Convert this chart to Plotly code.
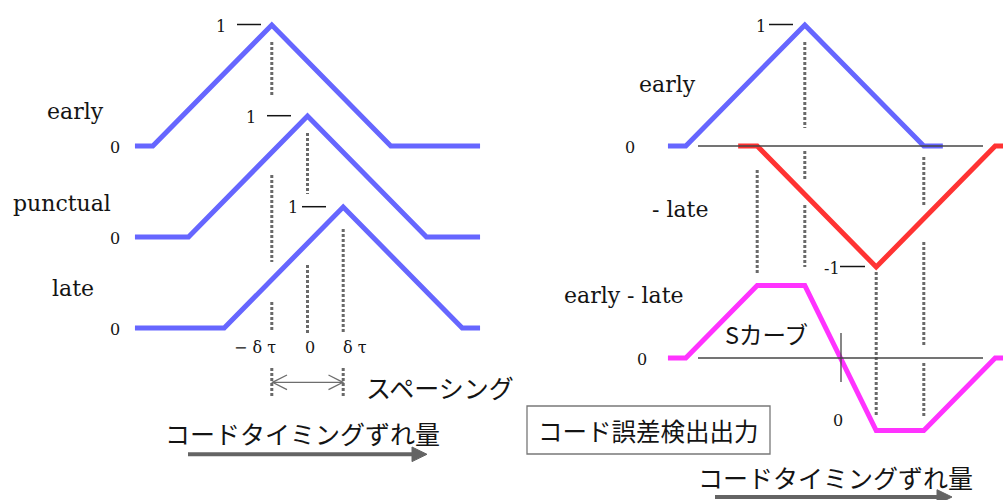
import plotly.graph_objects as go

W, H = 1003, 500

# ---------------- data (τ in chips, normalised correlation) ----------------
DELTA = 0.3  # early / late offset in chips

left_early_tau = [-1.45, -1.3, -0.3, 0.7, 1.45]
left_early_val = [0, 0, 1, 0, 0]
left_punct_tau = [-1.45, -1.0, 0.0, 1.0, 1.45]
left_punct_val = [0, 0, 1, 0, 0]
left_late_tau = [-1.45, -0.7, 0.3, 1.3, 1.45]
left_late_val = [0, 0, 1, 0, 0]

right_early_tau = [-1.45, -1.3, -0.3, 0.7, 0.86]
right_early_val = [0, 0, 1, 0, 0]
right_neglate_tau = [-0.86, -0.7, 0.3, 1.3, 1.45]
right_neglate_val = [0, 0, -1, 0, 0]
scurve_tau = [-1.45, -1.3, -0.7, -0.3, 0.3, 0.7, 1.3, 1.45]
scurve_val = [0, 0, 0.6, 0.6, -0.6, -0.6, 0, 0]

left_row_labels = ["early", "punctual", "late"]
right_row_labels = ["early", "- late", "early - late"]
tau_tick_labels = ["− δ τ", "0", "δ τ"]
tau_tick_pos = [-DELTA, 0.0, DELTA]

# ---------------- layout geometry (pixels) ----------------
PX_PER_CHIP = 119.0
PX_PER_UNIT = 121.0
LEFT_CENTER = 307.5
RIGHT_CENTER = 840.5
BASE = {"y": 146, "y2": 237, "y3": 328, "y4": 358}

BLUE = "rgb(102,102,255)"
RED = "rgb(255,51,51)"
MAGENTA = "rgb(255,51,255)"
DOT = "rgb(105,105,105)"
AX = "rgb(70,70,70)"
TXT = "rgb(20,20,20)"
SERIF = "DejaVu Serif"
JP = "Noto Sans CJK JP"


def px(x):
    return x / W


def py(y):
    return 1 - y / H


def xr(c):
    return [-c / PX_PER_CHIP, (W - c) / PX_PER_CHIP]


def yr(b):
    return [-(H - b) / PX_PER_UNIT, b / PX_PER_UNIT]


fig = go.Figure()

def add_curve(tau, val, xa, ya, color):
    fig.add_trace(go.Scatter(x=tau, y=val, xaxis=xa, yaxis=ya, mode="lines",
                             line=dict(color=color, width=5), hoverinfo="skip",
                             showlegend=False))

add_curve(left_early_tau, left_early_val, "x", "y", BLUE)
add_curve(left_punct_tau, left_punct_val, "x", "y2", BLUE)
add_curve(left_late_tau, left_late_val, "x", "y3", BLUE)
add_curve(right_early_tau, right_early_val, "x2", "y", BLUE)
add_curve(right_neglate_tau, right_neglate_val, "x2", "y", RED)
add_curve(scurve_tau, scurve_val, "x2", "y4", MAGENTA)

shapes = []
annotations = []

# dotted guide lines (x in chips, y pixel segments)
guides_left = {
    -DELTA: [(42, 97), (175, 262), (302, 332), (368, 398)],
    0.0: [(133, 194), (265, 333)],
    DELTA: [(229, 333), (368, 398)],
}
guides_right = {
    -0.7: [(170, 274)],
    -DELTA: [(42, 128), (151, 180), (205, 267)],
    DELTA: [(272, 417)],
    0.7: [(157, 205), (242, 347), (363, 417)],
}
for xref, g in (("x", guides_left), ("x2", guides_right)):
    for t, segs in g.items():
        for y0, y1 in segs:
            shapes.append(dict(type="line", xref=xref, yref="paper", x0=t, x1=t,
                               y0=py(y0), y1=py(y1),
                               line=dict(color=DOT, width=3, dash="3px,2px")))

def pline(x0, y0, x1, y1, color=AX, width=1.3):
    shapes.append(dict(type="line", xref="paper", yref="paper", x0=px(x0), x1=px(x1),
                       y0=py(y0), y1=py(y1), line=dict(color=color, width=width)))

def ppath(points, color, width=1.3, fill=None, close=False):
    d = "M " + " L ".join(f"{px(x):.5f},{py(y):.5f}" for x, y in points)
    if close:
        d += " Z"
    shapes.append(dict(type="path", xref="paper", yref="paper", path=d,
                       line=dict(color=color, width=width),
                       fillcolor=fill if fill else "rgba(0,0,0,0)"))

def text(s, x, y, size, font=SERIF, color=TXT, xanchor="center"):
    annotations.append(dict(text=s, x=px(x), y=py(y), xref="paper", yref="paper",
                            xanchor=xanchor, yanchor="middle", showarrow=False,
                            font=dict(family=font, size=size, color=color)))

# axis lines on right panel
pline(698, 146, 983, 146)
pline(698, 358, 983, 358)
pline(841, 333, 841, 382)

# "1 —" tick dashes
for (x0, x1, y) in [(237, 261, 24.5), (267, 291, 115.7), (302, 326, 206.7),
                    (769, 793, 24.5), (840, 865, 266.5)]:
    pline(x0, y, x1, y, color=TXT, width=1.5)

# spacing double arrow
SP = "rgb(110,110,110)"
pline(272.5, 382.3, 343, 382.3, color=SP, width=1.3)
ppath([(287, 375), (272.5, 382.3), (287, 389.6)], SP, 1.3)
ppath([(328.5, 375), (343, 382.3), (328.5, 389.6)], SP, 1.3)

# bottom arrows
AR = "rgb(100,100,100)"
pline(188, 454.3, 413, 454.3, color=AR, width=4)
ppath([(412, 447), (427, 454.3), (412, 461.6)], AR, 1, fill=AR, close=True)
pline(715, 497, 938, 497, color=AR, width=4)
ppath([(937, 489.7), (952, 497), (937, 504.3)], AR, 1, fill=AR, close=True)

# box
shapes.append(dict(type="rect", xref="paper", yref="paper", x0=px(527), x1=px(770),
                   y0=py(406), y1=py(454), line=dict(color="rgb(120,120,120)", width=1.3),
                   fillcolor="white", layer="below"))

# row labels
for s, (x, y) in zip(left_row_labels, [(75, 112), (62, 204), (73, 288)]):
    text(s, x, y, 22)
for s, (x, y) in zip(right_row_labels, [(667, 84), (680, 210), (624, 295)]):
    text(s, x, y, 22)

# value labels
for (x, y) in [(114.5, 147), (114.5, 238), (114.5, 329), (630, 147), (642, 359), (838, 420)]:
    text("0", x, y, 16)
for (x, y) in [(221, 26), (251, 117.5), (293, 208), (761, 26)]:
    text("1", x, y, 16)
text("-1", 831.5, 268.5, 16)

# tau tick labels
for s, t in zip(tau_tick_labels, tau_tick_pos):
    xpix = LEFT_CENTER + t * PX_PER_CHIP
    text(s, xpix + (-17 if t < 0 else (12 if t > 0 else 2.5)), 347, 16)

text("スペーシング", 364, 387, 25, font=JP, xanchor="left")
text("コードタイミングずれ量", 302, 433, 25, font=JP)
text("コードタイミングずれ量", 835, 477, 25, font=JP)
text("コード誤差検出出力", 648, 430, 24.5, font=JP)
text("Sカーブ", 766, 334, 23.5, font=JP)

ax_common = dict(visible=False, fixedrange=True, showgrid=False, zeroline=False)
fig.update_layout(
    width=W, height=H,
    margin=dict(l=0, r=0, t=0, b=0),
    paper_bgcolor="white", plot_bgcolor="white",
    showlegend=False,
    xaxis=dict(domain=[0, 1], range=xr(LEFT_CENTER), **ax_common),
    xaxis2=dict(domain=[0, 1], range=xr(RIGHT_CENTER), overlaying="x", anchor="y", **ax_common),
    yaxis=dict(domain=[0, 1], range=yr(BASE["y"]), **ax_common),
    yaxis2=dict(range=yr(BASE["y2"]), overlaying="y", anchor="x", **ax_common),
    yaxis3=dict(range=yr(BASE["y3"]), overlaying="y", anchor="x", **ax_common),
    yaxis4=dict(range=yr(BASE["y4"]), overlaying="y", anchor="x", **ax_common),
    shapes=shapes,
    annotations=annotations,
)

fig.write_html("out.html", config={"displayModeBar": False},
               post_script="document.body.style.margin='0px';document.body.style.overflow='hidden';")
